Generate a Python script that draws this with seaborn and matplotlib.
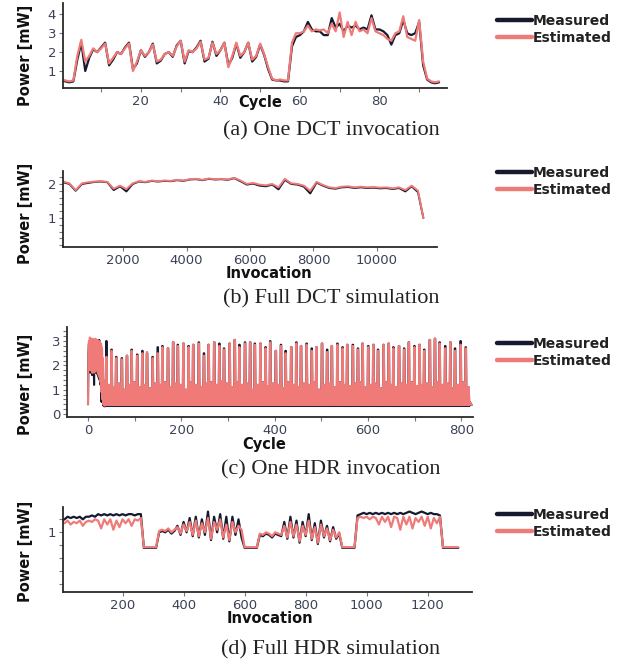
import numpy as np
import matplotlib
matplotlib.use('Agg')
import matplotlib.pyplot as plt
import seaborn as sns
from matplotlib.ticker import MultipleLocator
from matplotlib.lines import Line2D

MEAS_COLOR = '#161a30'
EST_COLOR = '#f07a78'
TICK_COLOR = '#3b4256'

# (a) One DCT invocation -- power per cycle
dct_cycle = list(range(0, 96))
dct_est = [0.55, 0.5, 0.45, 0.5, 1.8, 2.65, 1.5, 1.8, 2.2, 2.0,
           2.2, 2.45, 1.4, 1.7, 2.0, 1.9, 2.2, 2.45, 1.0, 1.5,
           2.1, 1.8, 2.0, 2.4, 1.5, 1.6, 1.9, 2.0, 1.8, 2.3,
           2.6, 1.5, 2.1, 2.0, 2.2, 2.55, 1.6, 1.7, 2.5, 1.9,
           2.1, 2.5, 1.2, 1.8, 2.5, 1.8, 2.0, 2.5, 1.6, 1.8,
           2.45, 1.9, 1.2, 0.6, 0.5, 0.55, 0.5, 0.5, 2.5, 3.0,
           3.0, 3.1, 3.4, 3.1, 3.2, 3.15, 3.2, 3.0, 3.5, 3.1,
           4.1, 2.8, 3.6, 2.9, 3.6, 3.1, 3.2, 3.0, 3.8, 3.1,
           3.0, 2.9, 2.7, 2.6, 3.0, 3.1, 3.9, 2.8, 2.7, 2.6,
           3.7, 1.5, 0.6, 0.45, 0.4, 0.45]
dct_meas = [0.5, 0.45, 0.4, 0.45, 1.6, 2.5, 1.0, 1.7, 2.15, 2.0,
            2.25, 2.5, 1.3, 1.6, 2.0, 1.9, 2.25, 2.5, 1.1, 1.4,
            2.1, 1.75, 2.0, 2.45, 1.4, 1.55, 1.9, 2.0, 1.75, 2.35,
            2.6, 1.4, 2.05, 2.0, 2.25, 2.6, 1.5, 1.65, 2.55, 1.8,
            2.1, 2.5, 1.3, 1.7, 2.45, 1.7, 2.0, 2.5, 1.5, 1.75,
            2.4, 1.85, 1.1, 0.55, 0.5, 0.5, 0.45, 0.45, 2.3, 2.8,
            2.9, 3.1, 3.6, 3.2, 3.1, 3.1, 2.9, 2.9, 3.8, 3.3,
            3.5, 3.1, 3.4, 3.3, 3.4, 3.2, 3.3, 3.2, 3.95, 3.2,
            3.2, 3.1, 2.9, 2.4, 2.9, 3.0, 3.7, 3.0, 2.9, 3.0,
            3.6, 1.3, 0.55, 0.4, 0.35, 0.4]

# (b) Full DCT simulation -- power per invocation
dct_sim_inv = list(range(100, 11401, 200)) + [11470]
dct_sim_est = [2.07, 2.02, 1.82, 2.02, 2.05, 2.07, 2.08, 2.06, 1.86, 1.95,
               1.85, 2.02, 2.08, 2.06, 2.1, 2.08, 2.1, 2.09, 2.12, 2.1,
               2.14, 2.15, 2.12, 2.16, 2.14, 2.15, 2.13, 2.18, 2.1, 2.0,
               2.03, 1.98, 1.96, 2.0, 1.9, 2.15, 2.02, 2.0, 1.95, 1.8,
               2.06, 1.97, 1.9, 1.88, 1.92, 1.93, 1.9, 1.92, 1.9, 1.91,
               1.89, 1.9, 1.87, 1.9, 1.82, 1.95, 1.8, 1.0]
dct_sim_meas = [2.05, 2.0, 1.8, 2.0, 2.03, 2.06, 2.07, 2.05, 1.82, 1.93,
                1.78, 2.0, 2.07, 2.05, 2.09, 2.07, 2.09, 2.08, 2.11, 2.09,
                2.13, 2.14, 2.11, 2.15, 2.13, 2.14, 2.12, 2.17, 2.08, 1.98,
                2.01, 1.95, 1.93, 1.98, 1.84, 2.12, 2.0, 1.98, 1.92, 1.72,
                2.04, 1.95, 1.88, 1.86, 1.9, 1.91, 1.88, 1.9, 1.88, 1.89,
                1.87, 1.88, 1.85, 1.88, 1.78, 1.93, 1.76, 1.0]

# (c) One HDR invocation -- start burst (cycles 0..35), then spikes
hdr_start_est = [0.4, 2.6, 3.0, 2.2, 3.15, 1.8, 3.1, 2.0, 3.0, 1.7,
                 3.1, 1.8, 3.05, 1.7, 2.95, 1.75, 3.1, 1.9, 3.0, 1.8,
                 3.05, 1.7, 2.9, 1.6, 3.0, 1.5, 2.8, 1.3, 2.9, 0.9,
                 2.7, 0.6, 2.3, 0.4, 1.4, 0.35]
hdr_start_meas = [0.4, 2.5, 2.9, 2.1, 3.0, 1.7, 2.8, 1.9, 2.9, 1.6,
                  3.0, 1.7, 2.95, 1.2, 2.9, 1.7, 3.0, 1.8, 2.9, 1.7,
                  3.0, 1.6, 2.8, 1.5, 3.05, 1.4, 2.7, 1.2, 2.8, 0.5,
                  2.6, 0.5, 2.2, 0.35, 1.3, 0.32]
hdr_peak_cycle = [38, 49, 59, 71, 82, 92, 104, 115, 125, 137,
                  148, 158, 170, 181, 191, 203, 214, 224, 236, 247,
                  257, 269, 280, 290, 302, 313, 323, 335, 346, 356,
                  368, 379, 389, 401, 412, 422, 434, 445, 455, 467,
                  478, 488, 500, 511, 521, 533, 544, 554, 566, 577,
                  587, 599, 610, 620, 632, 643, 653, 665, 676, 686,
                  698, 709, 719, 731, 742, 752, 764, 775, 785, 797,
                  808]
hdr_peak_est = [2.35, 2.6, 2.3, 2.25, 2.4, 2.6, 2.4, 2.5, 2.55, 2.3,
                2.5, 2.75, 2.7, 2.95, 2.8, 2.9, 2.75, 2.85, 2.9, 2.4,
                2.85, 2.95, 2.8, 2.65, 2.9, 3.05, 2.75, 2.9, 2.95, 2.85,
                2.9, 2.7, 2.95, 2.6, 2.8, 2.5, 2.75, 2.9, 2.8, 2.85,
                2.6, 2.75, 2.9, 2.55, 2.8, 2.85, 2.7, 2.85, 2.8, 2.65,
                2.9, 2.75, 2.85, 2.6, 2.85, 2.9, 2.7, 2.8, 2.65, 2.95,
                2.75, 2.85, 2.6, 3.05, 3.1, 2.9, 2.7, 2.95, 2.6, 2.85,
                2.7]
hdr_peak_meas = [3.0, 2.65, 2.35, 2.3, 2.4, 2.65, 2.45, 2.6, 2.5, 2.35,
                 2.75, 2.8, 2.7, 2.95, 2.85, 2.9, 2.8, 2.85, 2.95, 2.5,
                 2.85, 2.95, 2.9, 2.7, 2.9, 3.05, 2.85, 2.95, 2.95, 2.9,
                 2.9, 2.75, 3.0, 2.6, 2.85, 2.6, 2.75, 2.95, 2.8, 2.9,
                 2.7, 2.75, 2.9, 2.65, 2.8, 2.9, 2.75, 2.85, 2.85, 2.7,
                 2.9, 2.8, 2.85, 2.65, 2.85, 2.9, 2.75, 2.8, 2.7, 2.95,
                 2.8, 2.85, 2.65, 3.05, 3.1, 2.95, 2.8, 2.95, 2.7, 3.0,
                 2.75]
hdr_band_est = [1.2, 1.1, 1.25, 1.0, 1.2, 1.3, 1.1, 1.2, 1.05, 1.25,
                1.2, 1.3, 1.1, 1.25, 1.2, 1.0, 1.3, 1.2, 1.1, 1.25,
                1.3, 1.2, 1.35, 1.25, 1.1, 1.3, 1.2, 1.25, 1.0, 1.2,
                1.3, 1.15, 1.25, 1.2, 1.05, 1.3, 1.2, 1.1, 1.25, 1.2,
                1.3, 1.0, 1.2, 1.25, 1.1, 1.3, 1.2, 1.15, 1.25, 1.3,
                1.1, 1.2, 1.25, 1.05, 1.3, 1.2, 1.1, 1.25, 1.2, 1.3,
                1.15, 1.2, 1.25, 1.1, 1.3, 1.2, 1.25, 1.05, 1.2, 1.3,
                1.1]
hdr_floor_est = 0.37
hdr_floor_meas = 0.33
hdr_end_cycle = [818, 822]
hdr_end_est = [0.5, 0.37]

# (d) Full HDR simulation -- power per invocation (every 10 invocations)
hdr_sim_inv = list(range(0, 1301, 10))
hdr_sim_est = [1.08, 1.07, 1.09, 1.06, 1.08, 1.07, 1.09, 1.05, 1.08, 1.09,
               1.08, 1.10, 1.09, 1.03, 1.10, 1.06, 1.10, 1.02, 1.09, 1.04,
               1.10, 1.07, 1.10, 1.05, 1.10, 1.09, 1.11,
               0.885, 0.885, 0.885, 0.885, 0.885,
               1.01, 1.02, 1.01, 1.03, 1.0, 1.02, 1.04, 0.99, 1.06, 1.01,
               1.08, 0.98, 1.09, 0.97, 1.07, 1.0, 1.11, 0.95, 1.08, 1.02,
               1.10, 0.96, 1.06, 0.94, 1.08, 1.0, 1.05, 1.02,
               0.885, 0.885, 0.885, 0.885, 0.885,
               0.99, 0.98, 1.0, 0.99, 0.97, 1.0, 0.99, 0.98, 1.05, 0.96,
               1.08, 0.97, 1.06, 0.93, 1.05, 0.98, 1.09, 0.95, 1.04, 0.92,
               1.06, 0.97, 1.03, 0.94, 1.02, 0.96, 1.0,
               0.885, 0.885, 0.885, 0.885, 0.885,
               1.11, 1.12, 1.11, 1.12, 1.10, 1.12, 1.11, 1.06, 1.12, 1.08,
               1.12, 1.04, 1.12, 1.11, 1.02, 1.12, 1.06, 1.12, 1.03, 1.11,
               1.08, 1.12, 1.05, 1.12, 1.03, 1.11, 1.07, 1.12,
               0.885, 0.885, 0.885, 0.885, 0.885, 0.885]
hdr_sim_meas = [1.09, 1.10, 1.12, 1.11, 1.12, 1.11, 1.12, 1.10, 1.12, 1.12,
                1.13, 1.12, 1.14, 1.13, 1.14, 1.13, 1.14, 1.13, 1.14, 1.13,
                1.14, 1.13, 1.14, 1.14, 1.13, 1.14, 1.14,
                0.88, 0.88, 0.88, 0.88, 0.88,
                1.0, 1.01, 1.0, 1.02, 0.99, 1.01, 1.05, 0.98, 1.08, 1.0,
                1.11, 0.97, 1.12, 0.96, 1.10, 0.98, 1.16, 0.94, 1.12, 1.0,
                1.14, 0.95, 1.12, 0.93, 1.12, 0.98, 1.10, 0.96,
                0.88, 0.88, 0.88, 0.88, 0.88,
                0.98, 0.97, 0.99, 0.98, 0.96, 0.99, 0.98, 0.97, 1.08, 0.95,
                1.12, 0.96, 1.09, 0.92, 1.08, 0.97, 1.14, 0.94, 1.07, 0.91,
                1.09, 0.96, 1.05, 0.93, 1.04, 0.95, 0.99,
                0.88, 0.88, 0.88, 0.88, 0.88,
                1.13, 1.14, 1.15, 1.14, 1.15, 1.14, 1.15, 1.14, 1.15, 1.14,
                1.15, 1.14, 1.15, 1.14, 1.15, 1.14, 1.15, 1.16, 1.15, 1.14,
                1.15, 1.16, 1.15, 1.14, 1.15, 1.14, 1.14, 1.13,
                0.88, 0.88, 0.88, 0.88, 0.88, 0.88]

captions = ['(a) One DCT invocation', '(b) Full DCT simulation',
            '(c) One HDR invocation', '(d) Full HDR simulation']


# expand the HDR spike list into one trace
def build_hdr(start, peaks, bands, floor):
    xs = list(range(len(start)))
    ys = list(start)
    for i, p in enumerate(hdr_peak_cycle):
        nxt = hdr_peak_cycle[i + 1] if i + 1 < len(hdr_peak_cycle) else p + 10
        xs += [p, p + 1, p + 2, p + 3]
        ys += [floor, peaks[i], peaks[i], floor]
        for k, c in enumerate(range(p + 4, nxt)):
            xs.append(c)
            ys.append(bands[i] if k % 2 == 0 else floor)
    xs += hdr_end_cycle
    ys += hdr_end_est
    return xs, ys


hdr_x_est, hdr_y_est = build_hdr(hdr_start_est, hdr_peak_est, hdr_band_est, hdr_floor_est)
hdr_x_meas, hdr_y_meas = build_hdr(hdr_start_meas, hdr_peak_meas, hdr_band_est, hdr_floor_meas)

sns.set_style('ticks')
plt.rcParams['font.family'] = ['DejaVu Sans']

W, H = 624, 662
fig = plt.figure(figsize=(W / 100, H / 100), dpi=100)


def add_axes(left, right, top, bottom):
    return fig.add_axes([left / W, 1 - bottom / H, (right - left) / W, (bottom - top) / H])


panels = [
    dict(box=(63, 447, 3, 88), x_meas=dct_cycle, y_meas=dct_meas, x_est=dct_cycle, y_est=dct_est,
         xlim=(0.4, 97), ylim=(0.1, 4.6), xmaj=20, xmin=10, ymaj=1, ymin=None,
         xlabel='Cycle', xlab=(260, 95), ylab=55, legend=14, caption=131, lw=1.6),
    dict(box=(63, 437, 171, 247), x_meas=dct_sim_inv, y_meas=dct_sim_meas, x_est=dct_sim_inv, y_est=dct_sim_est,
         xlim=(100, 11900), ylim=(0.15, 2.38), xmaj=2000, xmin=None, ymaj=1, ymin=0.2,
         xlabel='Invocation', xlab=(269, 266), ylab=213, legend=166, caption=299, lw=1.4),
    dict(box=(67, 473, 327, 417), x_meas=hdr_x_meas, y_meas=hdr_y_meas, x_est=hdr_x_est, y_est=hdr_y_est,
         xlim=(-45, 825), ylim=(-0.12, 3.58), xmaj=200, xmin=100, ymaj=1, ymin=0.2,
         xlabel='Cycle', xlab=(264, 437), ylab=384, legend=337, caption=470, lw=1.5),
    dict(box=(63, 472, 507, 592), x_meas=hdr_sim_inv, y_meas=hdr_sim_meas, x_est=hdr_sim_inv, y_est=hdr_sim_est,
         xlim=(5, 1345), ylim=(0.54, 1.195), xmaj=200, xmin=None, ymaj=1, ymin=0.1,
         xlabel='Invocation', xlab=(270, 611), ylab=551, legend=508, caption=650, lw=1.6),
]

for i, p in enumerate(panels):
    ax = add_axes(*p['box'])
    sns.lineplot(x=p['x_meas'], y=p['y_meas'], ax=ax, color=MEAS_COLOR, linewidth=p['lw'],
                 estimator=None, sort=False)
    sns.lineplot(x=p['x_est'], y=p['y_est'], ax=ax, color=EST_COLOR, linewidth=p['lw'],
                 estimator=None, sort=False)
    ax.set_xlim(*p['xlim'])
    ax.set_ylim(*p['ylim'])
    sns.despine(ax=ax)
    for s in ('left', 'bottom'):
        ax.spines[s].set_color('#2a2a2a')
        ax.spines[s].set_linewidth(1.3)
    ax.xaxis.set_major_locator(MultipleLocator(p['xmaj']))
    if p['xmin']:
        ax.xaxis.set_minor_locator(MultipleLocator(p['xmin']))
    ax.yaxis.set_major_locator(MultipleLocator(p['ymaj']))
    if p['ymin']:
        ax.yaxis.set_minor_locator(MultipleLocator(p['ymin']))
    ax.tick_params(which='both', length=3, width=0.8, color='#777777',
                   labelsize=9.5, labelcolor=TICK_COLOR, pad=2)
    ax.set_xlabel(p['xlabel'], fontsize=10.5, fontweight='bold', color='#111111')
    ax.set_ylabel('Power [mW]', fontsize=10.5, fontweight='bold', color='#111111')
    ax.xaxis.set_label_coords(p['xlab'][0] / W, 1 - p['xlab'][1] / H, transform=fig.transFigure)
    ax.yaxis.set_label_coords(33 / W, 1 - p['ylab'] / H, transform=fig.transFigure)

    handles = [Line2D([], [], color=MEAS_COLOR, linewidth=3.2),
               Line2D([], [], color=EST_COLOR, linewidth=3.2)]
    leg = ax.legend(handles, ['Measured', 'Estimated'], loc='upper left',
                    bbox_to_anchor=(497 / W, 1 - p['legend'] / H), bbox_transform=fig.transFigure,
                    frameon=False, handlelength=2.5, handletextpad=0.1, borderpad=0,
                    borderaxespad=0, labelspacing=0.2, prop={'weight': 'bold', 'size': 10})
    for t in leg.get_texts():
        t.set_color('#222222')

    fig.text(331 / W, 1 - p['caption'] / H, captions[i], ha='center', va='center',
             family='Liberation Serif', fontsize=16, color='#222222')

fig.savefig('out.png', dpi=100)
